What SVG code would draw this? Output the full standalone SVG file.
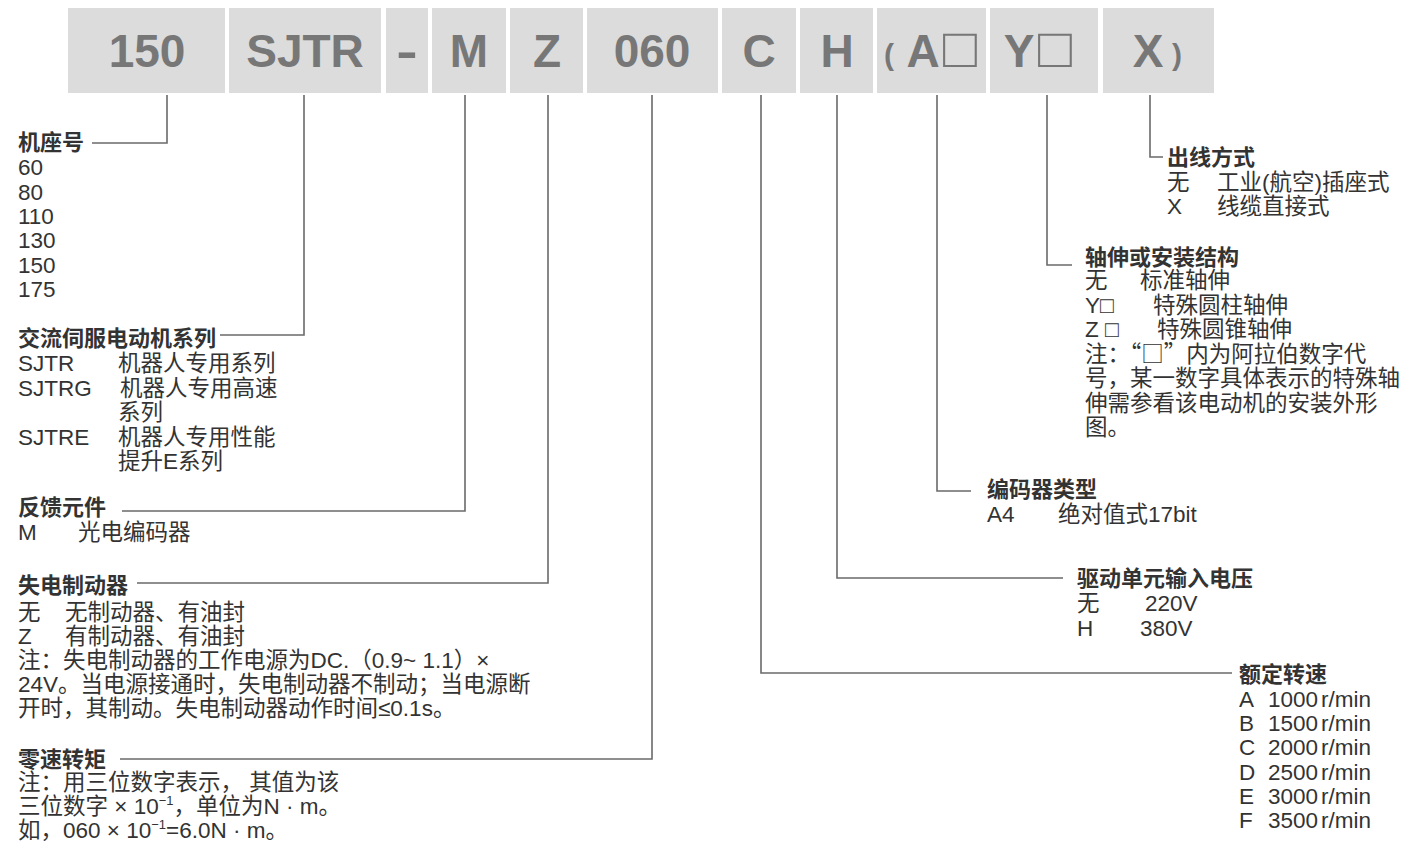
<svg xmlns="http://www.w3.org/2000/svg" width="1403" height="841" viewBox="0 0 1403 841">
<style>
.box{fill:#dcdcdc}
.hd{font-family:"Liberation Sans",Arial,sans-serif;font-weight:bold;font-size:46px;fill:#777;text-anchor:middle}
.par{font-family:"Liberation Sans",Arial,sans-serif;font-weight:bold;font-size:30px;fill:#777}
.sq{font-family:"Liberation Sans",Arial,sans-serif;font-size:56px;fill:#777}
.t{font-family:"Liberation Sans","Noto Sans CJK SC",sans-serif;font-size:22.5px;fill:#333}
.c{font-family:"Noto Sans CJK SC",sans-serif}
.h{font-family:"Liberation Sans","Noto Sans CJK SC",sans-serif;font-size:22px;font-weight:bold;fill:#333}
.sup{font-size:13px}
.conn{stroke:#6a6a6a;stroke-width:1.6;fill:none}
</style>
<rect width="1403" height="841" fill="#fff"/>

<g id="code-150"><rect class="box" x="68" y="8" width="157" height="85"/><text class="hd" x="147" y="67">150</text></g>
<g id="code-SJTR"><rect class="box" x="229" y="8" width="152" height="85"/><text class="hd" x="305" y="67">SJTR</text></g>
<g id="code-dash"><rect class="box" x="386" y="8" width="42" height="85"/><text class="hd" x="0" y="67" transform="translate(407 0) scale(1.4 1)">-</text></g>
<g id="code-M"><rect class="box" x="432" y="8" width="74" height="85"/><text class="hd" x="469" y="67">M</text></g>
<g id="code-Z"><rect class="box" x="510" y="8" width="73" height="85"/><text class="hd" x="547" y="67">Z</text></g>
<g id="code-060"><rect class="box" x="587" y="8" width="131" height="85"/><text class="hd" x="652" y="67">060</text></g>
<g id="code-C"><rect class="box" x="722" y="8" width="74" height="85"/><text class="hd" x="759" y="67">C</text></g>
<g id="code-H"><rect class="box" x="800" y="8" width="73" height="85"/><text class="hd" x="837" y="67">H</text></g>
<g id="code-A"><rect class="box" x="877" y="8" width="109" height="85"/><text class="par" x="884" y="65">(</text><text class="hd" x="923" y="67">A</text><text class="sq" x="943" y="67">□</text></g>
<g id="code-Y"><rect class="box" x="990" y="8" width="108" height="85"/><text class="hd" x="1019" y="67">Y</text><text class="sq" x="1038" y="67">□</text></g>
<g id="code-X"><rect class="box" x="1103" y="8" width="111" height="85"/><text class="hd" x="1148" y="67">X</text><text class="par" x="1172" y="65">)</text></g>

<g id="connectors">
<path class="conn" d="M167,95 V143 H92"/>
<path class="conn" d="M304,95 V335 H220"/>
<path class="conn" d="M465,95 V511 H122"/>
<path class="conn" d="M548,95 V583 H137"/>
<path class="conn" d="M652,95 V759 H120"/>
<path class="conn" d="M761,95 V673 H1232"/>
<path class="conn" d="M837,95 V578 H1063"/>
<path class="conn" d="M937,95 V491 H971"/>
<path class="conn" d="M1047,95 V265 H1072"/>
<path class="conn" d="M1150,95 V157 H1163"/>
</g>

<g id="frame-size">
<text class="h" x="18" y="150">机座号</text>
<text class="t" x="18" y="175">60</text>
<text class="t" x="18" y="200">80</text>
<text class="t" x="18" y="224">110</text>
<text class="t" x="18" y="248">130</text>
<text class="t" x="18" y="273">150</text>
<text class="t" x="18" y="297">175</text>
</g>

<g id="series">
<text class="h" x="18" y="346">交流伺服电动机系列</text>
<text class="t" x="18" y="371">SJTR</text><text class="t" x="118" y="371">机器人专用系列</text>
<text class="t" x="18" y="396">SJTRG</text><text class="t" x="120" y="396">机器人专用高速</text>
<text class="t" x="118" y="420">系列</text>
<text class="t" x="18" y="445">SJTRE</text><text class="t" x="118" y="445">机器人专用性能</text>
<text class="t" x="118" y="469">提升E系列</text>
</g>

<g id="feedback">
<text class="h" x="18" y="515">反馈元件</text>
<text class="t" x="18" y="540">M</text><text class="t" x="78" y="540">光电编码器</text>
</g>

<g id="brake">
<text class="h" x="18" y="593">失电制动器</text>
<text class="t" x="18" y="620">无</text><text class="t" x="65" y="620">无制动器、有油封</text>
<text class="t" x="18" y="644">Z</text><text class="t" x="65" y="644">有制动器、有油封</text>
<text class="t" x="18" y="668">注：失电制动器的工作电源为DC.（0.9~ 1.1）×</text>
<text class="t" x="18" y="692">24V。当电源接通时，失电制动器不制动；当电源断</text>
<text class="t" x="18" y="716">开时，其制动。失电制动器动作时间≤0.1s。</text>
</g>

<g id="torque">
<text class="h" x="18" y="767">零速转矩</text>
<text class="t" x="18" y="790">注：用三位数字表示， 其值为该</text>
<text class="t" x="18" y="814">三位数字 × 10<tspan class="sup" dy="-9">−1</tspan><tspan dy="9">，单位为N · m。</tspan></text>
<text class="t" x="18" y="838">如，060 × 10<tspan class="sup" dy="-9">−1</tspan><tspan dy="9">=6.0N · m。</tspan></text>
</g>

<g id="outlet">
<text class="h" x="1167" y="165">出线方式</text>
<text class="t" x="1167" y="190">无</text><text class="t" x="1217" y="190">工业(航空)插座式</text>
<text class="t" x="1167" y="214">X</text><text class="t" x="1217" y="214">线缆直接式</text>
</g>

<g id="shaft">
<text class="h" x="1085" y="265">轴伸或安装结构</text>
<text class="t" x="1085" y="288">无</text><text class="t" x="1140" y="288">标准轴伸</text>
<text class="t" x="1085" y="313">Y□</text><text class="t" x="1153" y="313">特殊圆柱轴伸</text>
<text class="t" x="1085" y="337">Z □</text><text class="t" x="1157" y="337">特殊圆锥轴伸</text>
<text class="t" x="1085" y="362">注：<tspan class="c">“□”</tspan>内为阿拉伯数字代</text>
<text class="t" x="1085" y="386">号，某一数字具体表示的特殊轴</text>
<text class="t" x="1085" y="411">伸需参看该电动机的安装外形</text>
<text class="t" x="1085" y="435">图。</text>
</g>

<g id="encoder">
<text class="h" x="987" y="497">编码器类型</text>
<text class="t" x="987" y="522">A4</text><text class="t" x="1058" y="522">绝对值式17bit</text>
</g>

<g id="voltage">
<text class="h" x="1077" y="586">驱动单元输入电压</text>
<text class="t" x="1077" y="611">无</text><text class="t" x="1145" y="611">220V</text>
<text class="t" x="1077" y="636">H</text><text class="t" x="1140" y="636">380V</text>
</g>

<g id="speed">
<text class="h" x="1239" y="682">额定转速</text>
<text class="t" x="1239" y="707">A</text><text class="t" x="1268" y="707">1000</text><text class="t" x="1321" y="707">r/min</text>
<text class="t" x="1239" y="731">B</text><text class="t" x="1268" y="731">1500</text><text class="t" x="1321" y="731">r/min</text>
<text class="t" x="1239" y="755">C</text><text class="t" x="1268" y="755">2000</text><text class="t" x="1321" y="755">r/min</text>
<text class="t" x="1239" y="780">D</text><text class="t" x="1268" y="780">2500</text><text class="t" x="1321" y="780">r/min</text>
<text class="t" x="1239" y="804">E</text><text class="t" x="1268" y="804">3000</text><text class="t" x="1321" y="804">r/min</text>
<text class="t" x="1239" y="828">F</text><text class="t" x="1268" y="828">3500</text><text class="t" x="1321" y="828">r/min</text>
</g>
</svg>
